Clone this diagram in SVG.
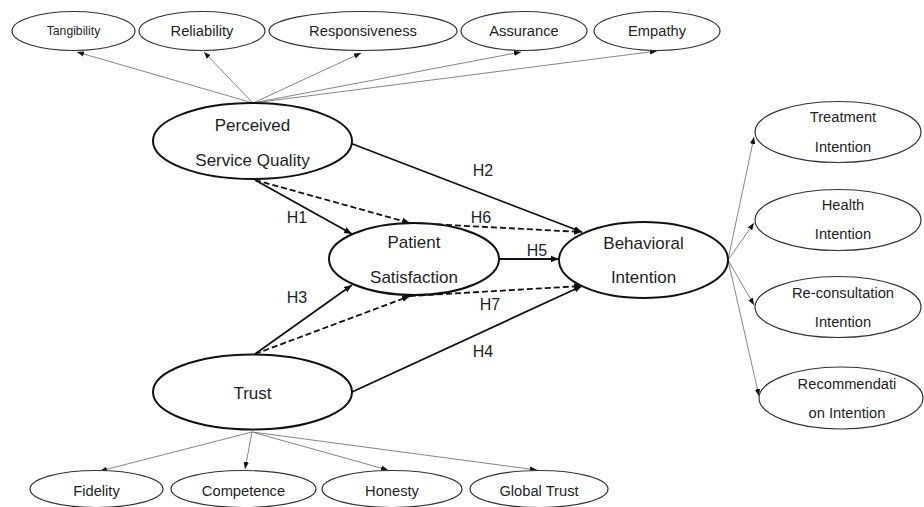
<svg xmlns="http://www.w3.org/2000/svg" width="924" height="507" viewBox="0 0 924 507">
<style>
text{font-family:"Liberation Sans",Arial,sans-serif;fill:#1e1e1e;text-anchor:middle;dominant-baseline:central}
.main{fill:#fff;stroke:#111;stroke-width:2}
.sub{fill:#fff;stroke:#333;stroke-width:1.2}
.big{font-size:17px}
.mid{font-size:14.7px}
.sm{font-size:12.2px}
.h{font-size:16px}
.thick{stroke:#111;stroke-width:1.8;fill:none;marker-end:url(#ah)}
.dash{stroke:#111;stroke-width:1.8;fill:none;stroke-dasharray:6 3;marker-end:url(#ah)}
.thin{stroke:#777;stroke-width:0.9;fill:none;marker-end:url(#at)}
</style>
<defs>
<marker id="ah" markerUnits="userSpaceOnUse" markerWidth="9" markerHeight="8" refX="8" refY="4" orient="auto"><path d="M0,0.8 L8,4 L0,7.2 Z" fill="#111"/></marker>
<marker id="at" markerUnits="userSpaceOnUse" markerWidth="8" markerHeight="7" refX="7" refY="3.5" orient="auto"><path d="M0,0.8 L7,3.5 L0,6.2 Z" fill="#111"/></marker>
</defs>
<g id="connectors">
<line class="thin" x1="253" y1="103" x2="77" y2="52"/>
<line class="thin" x1="253" y1="103" x2="204" y2="52"/>
<line class="thin" x1="253" y1="103" x2="361" y2="53"/>
<line class="thin" x1="253" y1="103" x2="521" y2="52"/>
<line class="thin" x1="253" y1="103" x2="657" y2="51"/>
<line class="thin" x1="252" y1="432" x2="100" y2="471"/>
<line class="thin" x1="252" y1="432" x2="245" y2="469"/>
<line class="thin" x1="252" y1="432" x2="388" y2="470"/>
<line class="thin" x1="252" y1="432" x2="537" y2="470"/>
<line class="thin" x1="728" y1="260" x2="754" y2="137"/>
<line class="thin" x1="728" y1="260" x2="754" y2="223"/>
<line class="thin" x1="728" y1="260" x2="754" y2="305"/>
<line class="thin" x1="728" y1="260" x2="759" y2="396"/>
<line class="thick" x1="255" y1="180" x2="352" y2="234"/>
<line class="thick" x1="350" y1="143" x2="582" y2="232"/>
<line class="thick" x1="255" y1="354" x2="352" y2="285"/>
<line class="thick" x1="352" y1="392" x2="582" y2="286"/>
<line class="thick" x1="499" y1="259" x2="559" y2="259"/>
<line class="dash" x1="255" y1="180" x2="410" y2="223"/>
<line class="dash" x1="410" y1="223" x2="582" y2="232"/>
<line class="dash" x1="255" y1="354" x2="410" y2="296"/>
<line class="dash" x1="410" y1="296" x2="582" y2="286"/>
<text class="h" x="297" y="217">H1</text>
<text class="h" x="483" y="170">H2</text>
<text class="h" x="297" y="297">H3</text>
<text class="h" x="483" y="351">H4</text>
<text class="h" x="537" y="250">H5</text>
<text class="h" x="481" y="217">H6</text>
<text class="h" x="490" y="304">H7</text>
</g>
<g id="tangibility"><ellipse class="sub" cx="73.5" cy="31" rx="61.5" ry="19.5"/><text class="sm" x="73.5" y="31">Tangibility</text></g>
<g id="reliability"><ellipse class="sub" cx="202" cy="31" rx="63" ry="19.5"/><text class="mid" x="202" y="31">Reliability</text></g>
<g id="responsiveness"><ellipse class="sub" cx="363" cy="31" rx="94" ry="19.5"/><text class="mid" x="363" y="31">Responsiveness</text></g>
<g id="assurance"><ellipse class="sub" cx="524" cy="31" rx="63" ry="19.5"/><text class="mid" x="524" y="31">Assurance</text></g>
<g id="empathy"><ellipse class="sub" cx="657" cy="31" rx="63" ry="19.5"/><text class="mid" x="657" y="31">Empathy</text></g>
<g id="psq"><ellipse class="main" cx="252.5" cy="141" rx="99.5" ry="38"/><text class="big" x="252.5" y="125">Perceived</text><text class="big" x="252.5" y="160">Service Quality</text></g>
<g id="ps"><ellipse class="main" cx="414" cy="259" rx="85" ry="36"/><text class="big" x="414" y="242">Patient</text><text class="big" x="414" y="277">Satisfaction</text></g>
<g id="bi"><ellipse class="main" cx="643.5" cy="260" rx="84.5" ry="38"/><text class="big" x="643.5" y="243">Behavioral</text><text class="big" x="643.5" y="277">Intention</text></g>
<g id="trust"><ellipse class="main" cx="252.5" cy="392" rx="99.5" ry="37.5"/><text class="big" x="252.5" y="393">Trust</text></g>
<g id="treatment"><ellipse class="sub" cx="838" cy="132" rx="83" ry="30.5"/><text class="mid" x="843" y="117">Treatment</text><text class="mid" x="843" y="147">Intention</text></g>
<g id="health"><ellipse class="sub" cx="838" cy="220" rx="83" ry="30.5"/><text class="mid" x="843" y="205">Health</text><text class="mid" x="843" y="234">Intention</text></g>
<g id="reconsultation"><ellipse class="sub" cx="838" cy="307" rx="83" ry="30.5"/><text class="mid" x="843" y="293">Re-consultation</text><text class="mid" x="843" y="322">Intention</text></g>
<g id="recommendation"><ellipse class="sub" cx="841" cy="398" rx="82" ry="31"/><text class="mid" x="847" y="384">Recommendati</text><text class="mid" x="847" y="413">on Intention</text></g>
<g id="fidelity"><ellipse class="sub" cx="96.5" cy="489" rx="66.5" ry="18.5"/><text class="mid" x="96.5" y="491">Fidelity</text></g>
<g id="competence"><ellipse class="sub" cx="243.5" cy="489" rx="72.5" ry="18.5"/><text class="mid" x="243.5" y="491">Competence</text></g>
<g id="honesty"><ellipse class="sub" cx="392" cy="489" rx="70" ry="18.5"/><text class="mid" x="392" y="491">Honesty</text></g>
<g id="globaltrust"><ellipse class="sub" cx="539" cy="489" rx="69" ry="18.5"/><text class="mid" x="539" y="491">Global Trust</text></g>
</svg>
